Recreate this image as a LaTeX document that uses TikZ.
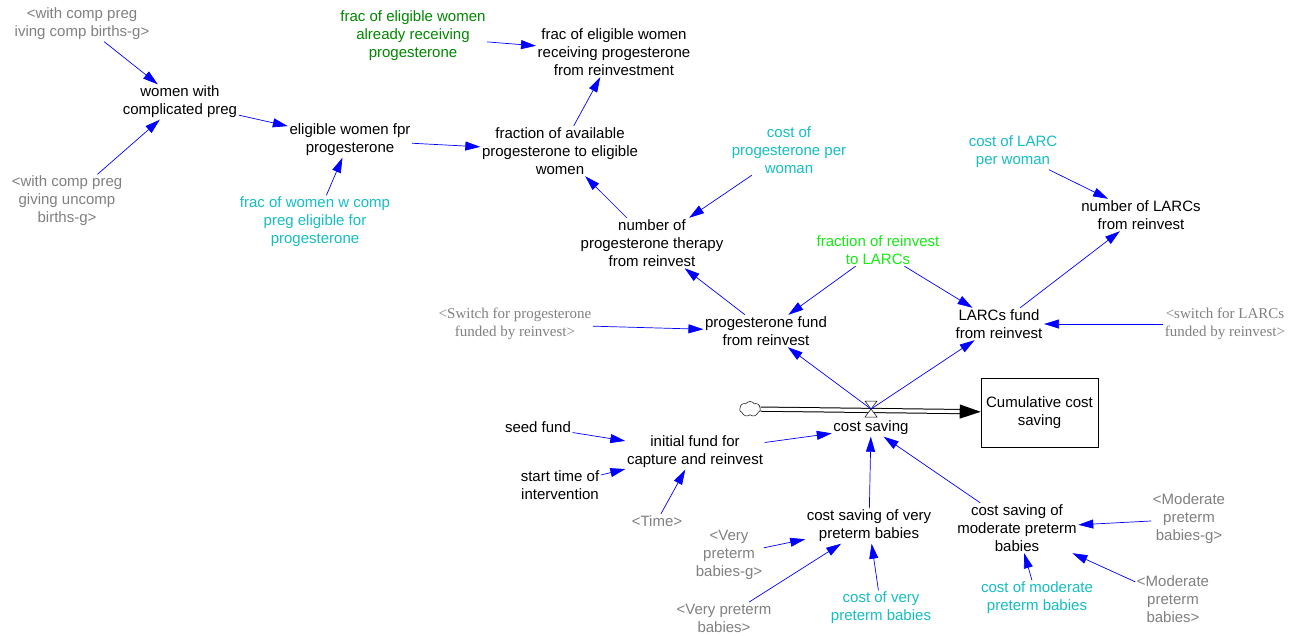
\documentclass[tikz,border=0pt]{standalone}
\usepackage{fontspec}
\setmainfont{Liberation Sans}
\newfontfamily\timesfont{Liberation Serif}
\usepackage{xcolor}
\usetikzlibrary{arrows.meta}
\usetikzlibrary{shapes.symbols}
\definecolor{shadowgray}{RGB}{128,128,128}
\definecolor{constcyan}{RGB}{20,190,195}
\definecolor{darkgreen}{RGB}{0,135,0}
\definecolor{brightgreen}{RGB}{20,235,20}
\tikzstyle{varnode} = [align=center, inner sep=1.5pt, font=\fontsize{15}{18}\selectfont]
\tikzstyle{shadowvar} = [varnode, text=shadowgray]
\tikzstyle{shadowserif} = [shadowvar, font=\timesfont\fontsize{15}{18}\selectfont]
\tikzstyle{constvar} = [varnode, text=constcyan]
\tikzstyle{stockbox} = [rectangle, draw=black, line width=0.6pt, minimum width=117pt, minimum height=69pt, inner sep=1pt, align=center, font=\fontsize{15}{18}\selectfont]
\tikzstyle{cloudsrc} = [cloud, draw=black, cloud puffs=7, cloud puff arc=110, minimum width=21pt, minimum height=15pt, inner sep=0pt, line width=0.5pt]
\tikzstyle{arrow} = [blue, line width=0.7pt, -{Triangle[length=15pt,width=9pt]}]
\tikzstyle{pipe} = [double=white, double distance=3.2pt, line width=1pt, -{Triangle[length=21pt,width=14pt]}]
\tikzstyle{valveshape} = [draw=black, fill=white, line width=0.5pt]

\begin{document}
\begin{tikzpicture}[x=1pt, y=-1pt]
        \useasboundingbox (0,0) rectangle (1296,635);

        % progesterone side
        \node (withComp) [shadowvar] at (82,24) {<with comp preg\\iving comp births-g>};
        \node (withUncomp) [shadowvar] at (67,201) {<with comp preg\\giving uncomp\\births-g>};
        \node (women) [varnode] at (180,102) {women with\\complicated preg};
        \node (eligible) [varnode] at (350,140) {eligible women fpr\\progesterone};
        \node (fracWomen) [constvar] at (315,222) {frac of women w comp\\preg eligible for\\progesterone};
        \node (fracAlready) [varnode, text=darkgreen] at (413,36) {frac of eligible women\\already receiving\\progesterone};
        \node (fracReinv) [varnode] at (614,52) {frac of eligible women\\receiving progesterone\\from reinvestment};
        \node (fracAvail) [varnode] at (560,151) {fraction of available\\progesterone to eligible\\women};
        \node (costProg) [constvar] at (789,150) {cost of\\progesterone per\\woman};
        \node (numProg) [varnode] at (652,243) {number of\\progesterone therapy\\from reinvest};
        \node (switchProg) [shadowserif] at (515,324) {<Switch for progesterone\\funded by reinvest>};
        \node (progFund) [varnode] at (766,331) {progesterone fund\\from reinvest};

        % LARC side
        \node (costLARC) [constvar] at (1013,152) {cost of LARC\\per woman};
        \node (numLARC) [varnode] at (1141,215) {number of LARCs\\from reinvest};
        \node (fracLARC) [varnode, text=brightgreen] at (878,250) {fraction of reinvest\\to LARCs};
        \node (LARCfund) [varnode] at (999,324) {LARCs fund\\from reinvest};
        \node (switchLARC) [shadowserif] at (1225,324) {<switch for LARCs\\funded by reinvest>};

        % stock and flow
        \node (cloud) [cloudsrc] at (750,409) {};
        \node (stock) [stockbox] at (1039.5,412.5) {Cumulative cost\\saving};
        \coordinate (valve) at (871,409);
        \node (costSaving) [varnode] at (871,428) {cost saving};

        \draw [pipe] (cloud) -- (stock);
        \draw [valveshape] (valve) -- ++(-6,-8) -- ++(12,0) -- cycle;
        \draw [valveshape] (valve) -- ++(-6,8) -- ++(12,0) -- cycle;

        % inputs to cost saving
        \node (seed) [varnode] at (538,427) {seed fund};
        \node (initFund) [varnode] at (695,452) {initial fund for\\capture and reinvest};
        \node (startTime) [varnode] at (560,485) {start time of\\intervention};
        \node (time) [shadowvar] at (657,521) {<Time>};
        \node (csVery) [varnode] at (869,526) {cost saving of very\\preterm babies};
        \node (veryG) [shadowvar] at (729,555) {<Very\\preterm\\babies-g>};
        \node (very) [shadowvar] at (724,618) {<Very preterm\\babies>};
        \node (costVery) [constvar] at (881,608) {cost of very\\preterm babies};
        \node (csMod) [varnode] at (1017,528) {cost saving of\\moderate preterm\\babies};
        \node (modG) [shadowvar] at (1189,519) {<Moderate\\preterm\\babies-g>};
        \node (mod) [shadowvar] at (1173,599) {<Moderate\\preterm\\babies>};
        \node (costMod) [constvar] at (1037,598) {cost of moderate\\preterm babies};

        \draw [arrow] (withComp) -- (women);
        \draw [arrow] (withUncomp) -- (women);
        \draw [arrow] (women) -- (eligible);
        \draw [arrow] (fracWomen) -- (eligible);
        \draw [arrow] (eligible) -- (fracAvail);
        \draw [arrow] (fracAlready) -- (fracReinv);
        \draw [arrow] (fracAvail) -- (fracReinv);
        \draw [arrow] (numProg) -- (fracAvail);
        \draw [arrow] (costProg) -- (numProg);
        \draw [arrow] (progFund) -- (numProg);
        \draw [arrow] (fracLARC) -- (progFund);
        \draw [arrow] (fracLARC) -- (LARCfund);
        \draw [arrow] (costLARC) -- (numLARC);
        \draw [arrow] (LARCfund) -- (numLARC);
        \draw [arrow] (switchLARC) -- (LARCfund);
        \draw [arrow] (switchProg) -- (progFund);
        \draw [arrow] (valve) -- (progFund);
        \draw [arrow] (valve) -- (LARCfund);
        \draw [arrow] (seed) -- (initFund);
        \draw [arrow] (startTime) -- (initFund);
        \draw [arrow] (time) -- (initFund);
        \draw [arrow] (initFund) -- (costSaving);
        \draw [arrow] (csVery) -- (costSaving);
        \draw [arrow] (csMod) -- (costSaving);
        \draw [arrow] (veryG) -- (csVery);
        \draw [arrow] (very) -- (csVery);
        \draw [arrow] (costVery) -- (csVery);
        \draw [arrow] (modG) -- (csMod);
        \draw [arrow] (mod) -- (csMod);
        \draw [arrow] (costMod) -- (csMod);
    \end{tikzpicture}
\end{document}
